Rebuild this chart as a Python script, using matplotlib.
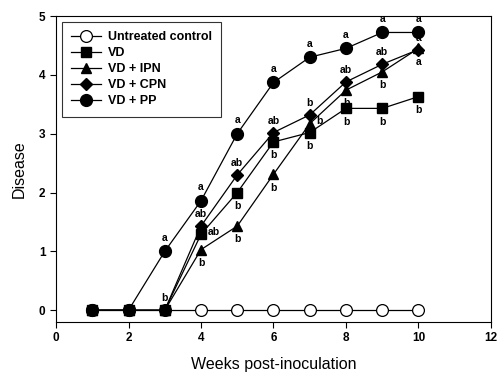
import matplotlib
matplotlib.use("Agg")
import matplotlib.pyplot as plt

weeks = [1, 2, 3, 4, 5, 6, 7, 8, 9, 10]
untreated = [0, 0, 0, 0, 0, 0, 0, 0, 0, 0]
vd = [0, 0, 0, 1.29, 2.0, 2.86, 3.02, 3.43, 3.43, 3.63]
vd_ipn = [0, 0, 0, 1.03, 1.43, 2.31, 3.17, 3.74, 4.05, 4.45]
vd_cpn = [0, 0, 0, 1.43, 2.30, 3.02, 3.32, 3.88, 4.18, 4.43]
vd_pp = [0, 0, 1.0, 1.86, 3.0, 3.87, 4.30, 4.45, 4.72, 4.72]

labels = ["Untreated control", "VD", "VD + IPN", "VD + CPN", "VD + PP"]

letters_pp = ["a", "a", "a", "a", "a", "a", "a", "a"]          # weeks 3-10, above
letters_cpn = ["ab", "ab", "ab", "b", "ab", "ab", "a"]         # weeks 4-10, above
letters_vd = ["ab", "b", "b", "b", "b", "b", "b"]              # weeks 4-10
letters_ipn = ["b", "b", "b", "b", "b", "b", "a"]              # weeks 4-10

plt.rcParams['font.family'] = ['Liberation Sans', 'DejaVu Sans']

fig = plt.figure(figsize=(5.01, 3.73), dpi=100)
ax = fig.add_axes([56/501, 1-322/373, (491-56)/501, (322-16)/373])

lw = 0.9
ax.plot(weeks, untreated, '-o', color='black', mfc='white', mec='black', ms=8.5, lw=lw, mew=0.9, label=labels[0], zorder=3)
ax.plot(weeks, vd, '-s', color='black', ms=7, lw=lw, label=labels[1], zorder=4)
ax.plot(weeks, vd_ipn, '-^', color='black', ms=7.5, lw=lw, label=labels[2], zorder=4)
ax.plot(weeks, vd_cpn, '-D', color='black', ms=6.5, lw=lw, label=labels[3], zorder=4)
ax.plot(weeks, vd_pp, '-o', color='black', ms=8.5, lw=lw, label=labels[4], zorder=5)

fs = 7.5
kw = dict(fontsize=fs, fontweight='bold', ha='center')
for w, t in zip(weeks[2:], letters_pp):
    v = vd_pp[weeks.index(w)]
    ax.annotate(t, (w, v), xytext=(0, 6), textcoords='offset points', va='bottom', **kw)
for w, t in zip(weeks[3:], letters_cpn):
    v = vd_cpn[weeks.index(w)]
    ax.annotate(t, (w, v), xytext=(0, 5), textcoords='offset points', va='bottom', **kw)
for w, t in zip(weeks[3:], letters_vd):
    v = vd[weeks.index(w)]
    if w == 4:
        ax.annotate(t, (w, v), xytext=(9, 2), textcoords='offset points', va='center', **kw)
    else:
        ax.annotate(t, (w, v), xytext=(0, -6), textcoords='offset points', va='top', **kw)
for w, t in zip(weeks[3:], letters_ipn):
    v = vd_ipn[weeks.index(w)]
    if w == 7:
        ax.annotate(t, (w, v), xytext=(7, 2), textcoords='offset points', va='center', **kw)
    else:
        ax.annotate(t, (w, v), xytext=(0, -6), textcoords='offset points', va='top', **kw)
ax.annotate("b", (3, 0), xytext=(0, 5), textcoords='offset points', va='bottom', **kw)

ax.set_xlim(0, 12)
ax.set_ylim(-0.2, 5)
ax.set_xticks([0, 2, 4, 6, 8, 10, 12])
ax.set_yticks([0, 1, 2, 3, 4, 5])
ax.tick_params(direction='out', length=4, width=0.8, labelsize=8.5)
for lab in ax.get_xticklabels() + ax.get_yticklabels():
    lab.set_fontweight('bold')
for s in ax.spines.values():
    s.set_linewidth(0.8)

ax.set_xlabel("Weeks post-inoculation", fontsize=11.5, labelpad=9)
ax.set_ylabel("Disease", fontsize=11.5, labelpad=9)

leg = ax.legend(loc='upper left', bbox_to_anchor=(0.014, 0.98), frameon=True, fancybox=False,
                edgecolor='black', prop={'weight': 'bold', 'size': 9}, handlelength=2.4,
                borderpad=0.75, labelspacing=0.32, handletextpad=0.5, borderaxespad=0)
leg.get_frame().set_linewidth(0.8)

fig.savefig("out.png", dpi=100)
